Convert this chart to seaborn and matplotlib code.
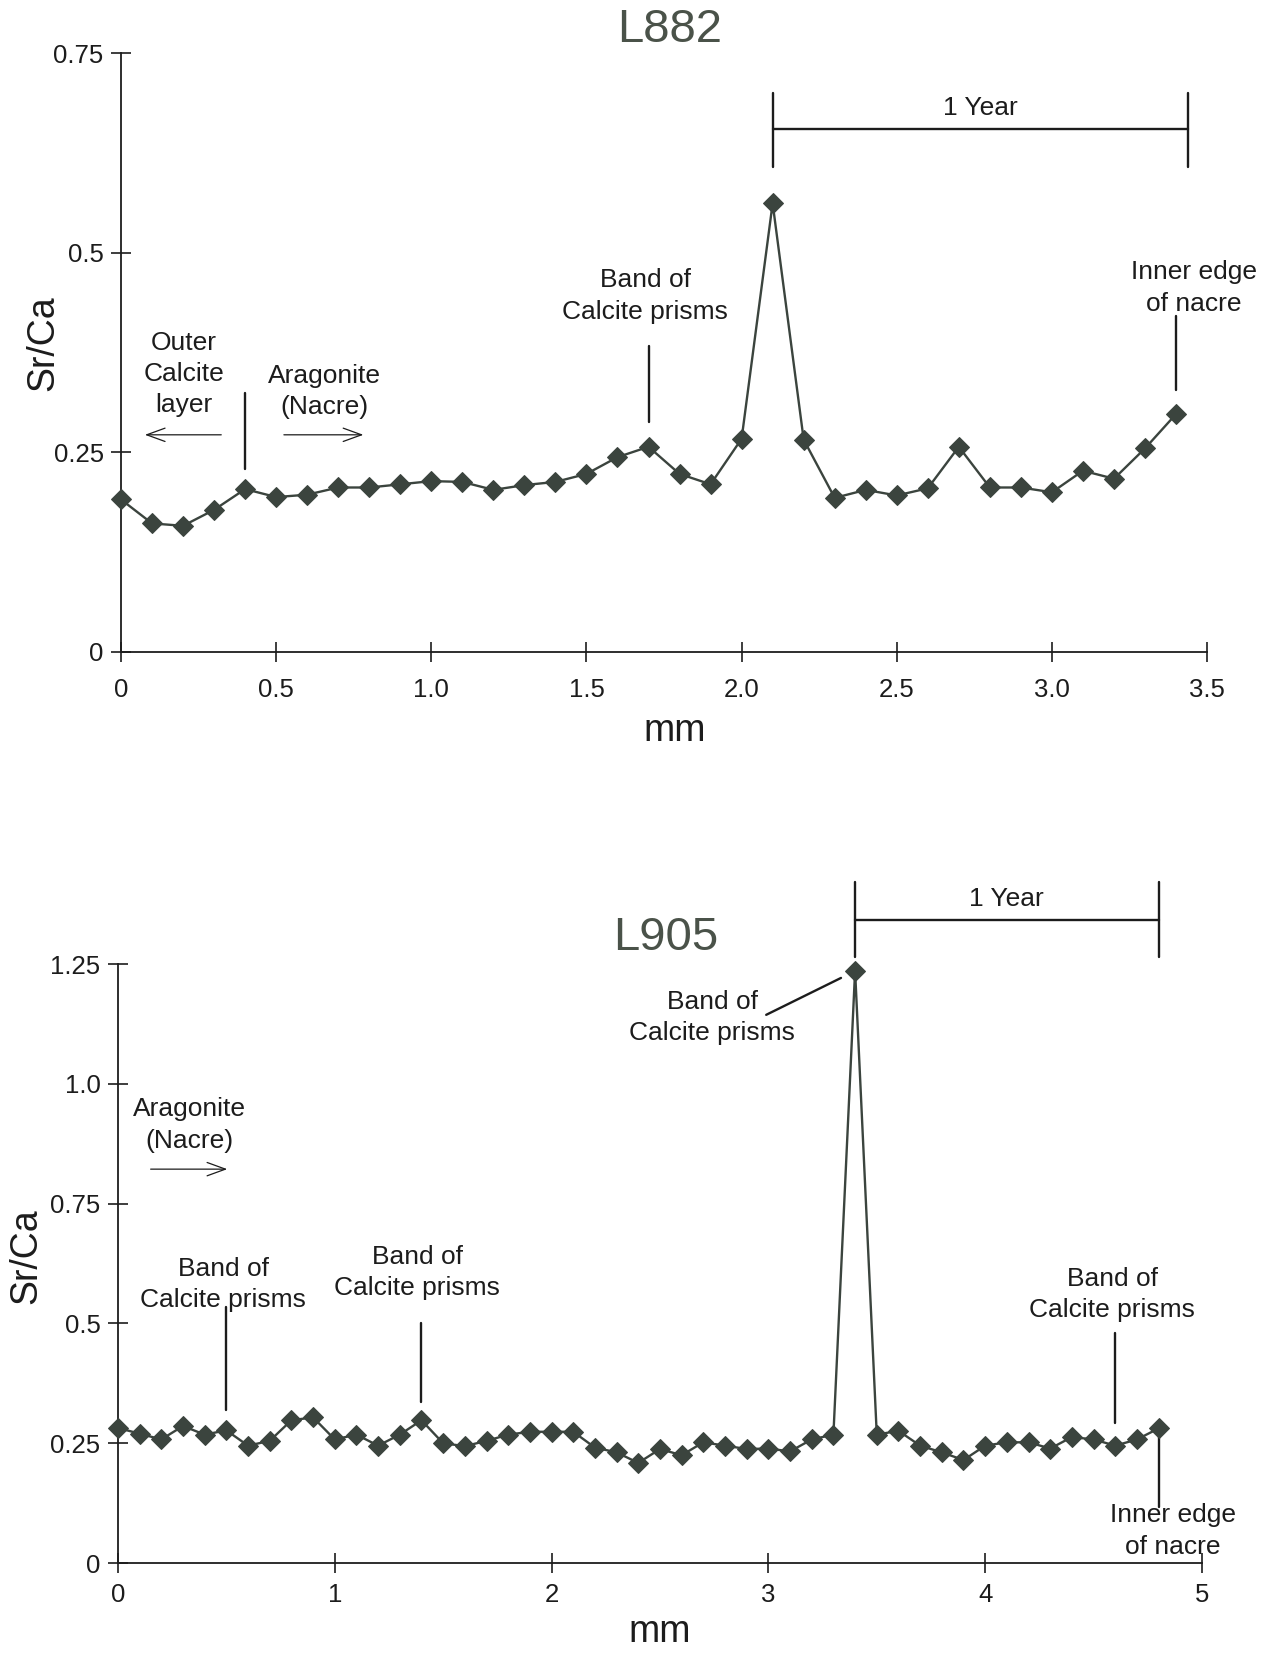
import numpy as np
import pandas as pd
import matplotlib
matplotlib.use("Agg")
import matplotlib.pyplot as plt
import seaborn as sns

# Sr/Ca profiles across two shell sections (distance in mm)
l882_mm = [round(0.1 * i, 1) for i in range(35)]
l882_srca = [0.191, 0.161, 0.158, 0.178, 0.204, 0.194, 0.197, 0.206, 0.206, 0.210,
             0.214, 0.213, 0.203, 0.209, 0.213, 0.223, 0.244, 0.257, 0.223, 0.210,
             0.267, 0.562, 0.266, 0.193, 0.203, 0.196, 0.205, 0.257, 0.206, 0.206,
             0.200, 0.227, 0.217, 0.255, 0.298]

l905_mm = [round(0.1 * i, 1) for i in range(49)]
l905_srca = [0.282, 0.270, 0.258, 0.286, 0.268, 0.277, 0.245, 0.255, 0.298, 0.304,
             0.258, 0.268, 0.245, 0.268, 0.298, 0.250, 0.244, 0.255, 0.268, 0.274,
             0.274, 0.274, 0.241, 0.231, 0.209, 0.238, 0.225, 0.252, 0.245, 0.238,
             0.239, 0.233, 0.258, 0.268, 1.236, 0.268, 0.276, 0.245, 0.231, 0.215,
             0.245, 0.252, 0.252, 0.239, 0.263, 0.258, 0.245, 0.258, 0.281]

top_xticks = [0, 0.5, 1.0, 1.5, 2.0, 2.5, 3.0, 3.5]
top_xlabels = ["0", "0.5", "1.0", "1.5", "2.0", "2.5", "3.0", "3.5"]
top_yticks = [0, 0.25, 0.5, 0.75]
top_ylabels = ["0", "0.25", "0.5", "0.75"]
bot_xticks = [0, 1, 2, 3, 4, 5]
bot_xlabels = ["0", "1", "2", "3", "4", "5"]
bot_yticks = [0, 0.25, 0.5, 0.75, 1.0, 1.25]
bot_ylabels = ["0", "0.25", "0.5", "0.75", "1.0", "1.25"]

sns.set_theme(style="ticks")
plt.rcParams["font.family"] = ["Liberation Sans", "DejaVu Sans"]

INK = "#1c1c1c"
MARK = "#3b443e"
TITLE = "#4a5249"

fig = plt.figure(figsize=(12.71, 16.53), dpi=100)
ax1 = fig.add_axes([0.0952, 0.6056, 0.8545, 0.3622])
ax2 = fig.add_axes([0.0928, 0.0544, 0.8529, 0.3624])

df1 = pd.DataFrame({"mm": l882_mm, "Sr/Ca": l882_srca})
df2 = pd.DataFrame({"mm": l905_mm, "Sr/Ca": l905_srca})

for ax, df in ((ax1, df1), (ax2, df2)):
    sns.lineplot(data=df, x="mm", y="Sr/Ca", ax=ax, color=MARK, linewidth=1.7,
                 marker="D", markersize=10, markeredgecolor=MARK,
                 markerfacecolor=MARK, clip_on=False, zorder=3)


def style_axes(ax, xt, xl, yt, yl, xmax, ymax, xpad):
    ax.set_xlim(0, xmax)
    ax.set_ylim(0, ymax)
    ax.set_xticks(xt)
    ax.set_xticklabels(xl)
    ax.set_yticks(yt)
    ax.set_yticklabels(yl)
    for s in ("top", "right"):
        ax.spines[s].set_visible(False)
    for s in ("left", "bottom"):
        ax.spines[s].set_color(INK)
        ax.spines[s].set_linewidth(1.3)
    ax.tick_params(axis="both", direction="inout", length=15, width=1.2,
                   colors=INK, labelsize=18.5)
    ax.tick_params(axis="x", pad=xpad)
    ax.tick_params(axis="y", pad=5)
    ax.set_xlabel("")
    ax.set_ylabel("")
    ax.patch.set_alpha(0)


style_axes(ax1, top_xticks, top_xlabels, top_yticks, top_ylabels, 3.5, 0.75, 11)
style_axes(ax2, bot_xticks, bot_xlabels, bot_yticks, bot_ylabels, 5, 1.25, 7)

# Axis labels and panel titles
W, H = 1271, 1653
def fx(px):
    return px / W
def fy(py):
    return 1 - py / H

fig.text(fx(43), fy(343), "Sr/Ca", rotation=90, ha="center", va="center",
         fontsize=27, color=INK)
fig.text(fx(675), fy(731), "mm", ha="center", va="center", fontsize=27, color=INK)
fig.text(fx(26), fy(1256), "Sr/Ca", rotation=90, ha="center", va="center",
         fontsize=27, color=INK)
fig.text(fx(660), fy(1632), "mm", ha="center", va="center", fontsize=27, color=INK)
fig.text(fx(670), fy(30), "L882", ha="center", va="center", fontsize=34, color=TITLE)
fig.text(fx(666), fy(938), "L905", ha="center", va="center", fontsize=34, color=TITLE)

ann = dict(ha="center", va="center", fontsize=19, color=INK, linespacing=1.38)
lk = dict(color=INK, linewidth=1.7, clip_on=False)
arrow = dict(arrowstyle="->,head_length=1.1,head_width=0.4", color=INK, lw=0.9)

# Upper panel annotations
ax1.text(0.203, 0.348, "Outer\nCalcite\nlayer", **ann)
ax1.annotate("", xy=(0.068, 0.272), xytext=(0.332, 0.272), arrowprops=arrow)
ax1.plot([0.4, 0.4], [0.229, 0.324], **lk)
ax1.text(0.657, 0.326, "Aragonite\n(Nacre)", **ann)
ax1.annotate("", xy=(0.79, 0.272), xytext=(0.516, 0.272), arrowprops=arrow)
ax1.text(1.689, 0.446, "Band of\nCalcite prisms", **ann)
ax1.plot([1.7, 1.7], [0.288, 0.383], **lk)
ax1.text(3.458, 0.456, "Inner edge\nof nacre", **ann)
ax1.plot([3.4, 3.4], [0.328, 0.421], **lk)
ax1.plot([2.1, 2.1], [0.607, 0.700], **lk)
ax1.plot([3.44, 3.44], [0.607, 0.700], **lk)
ax1.plot([2.1, 3.44], [0.655, 0.655], **lk)
ax1.text(2.77, 0.681, "1 Year", **ann)

# Lower panel annotations
ax2.text(0.332, 0.914, "Aragonite\n(Nacre)", **ann)
ax2.annotate("", xy=(0.517, 0.822), xytext=(0.138, 0.822), arrowprops=arrow)
ax2.text(0.486, 0.582, "Band of\nCalcite prisms", **ann)
ax2.plot([0.5, 0.5], [0.319, 0.534], **lk)
ax2.text(1.381, 0.607, "Band of\nCalcite prisms", **ann)
ax2.plot([1.4, 1.4], [0.336, 0.501], **lk)
ax2.text(2.74, 1.139, "Band of\nCalcite prisms", **ann)
ax2.plot([2.99, 3.335], [1.144, 1.221], **lk)
ax2.text(4.585, 0.561, "Band of\nCalcite prisms", **ann)
ax2.plot([4.6, 4.6], [0.292, 0.48], **lk)
ax2.text(4.866, 0.067, "Inner edge\nof nacre", **ann)
ax2.plot([4.8, 4.8], [0.117, 0.271], **lk)
ax2.plot([3.4, 3.4], [1.265, 1.421], **lk)
ax2.plot([4.8, 4.8], [1.265, 1.421], **lk)
ax2.plot([3.4, 4.8], [1.342, 1.342], **lk)
ax2.text(4.1, 1.386, "1 Year", **ann)

fig.savefig("out.png", dpi=100, facecolor="white")
